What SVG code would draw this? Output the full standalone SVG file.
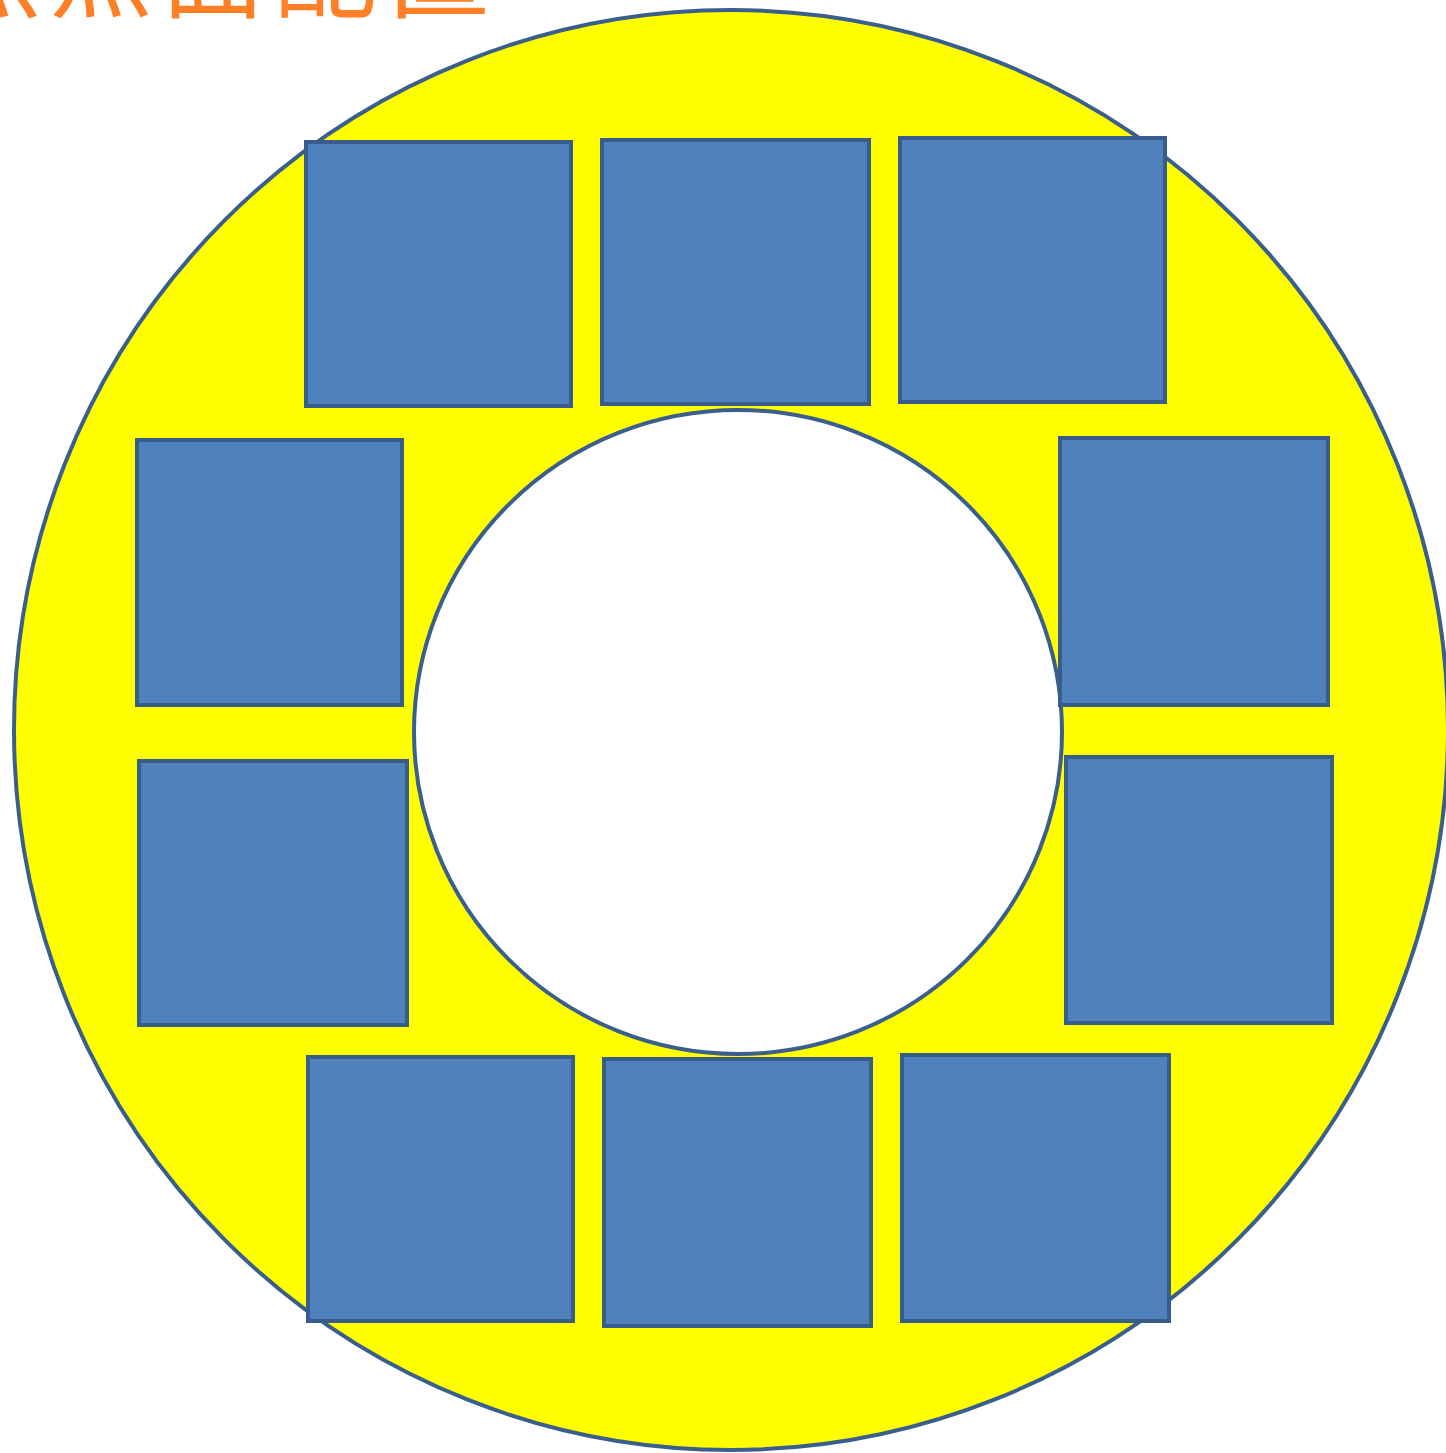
<svg xmlns="http://www.w3.org/2000/svg" width="1446" height="1453" viewBox="0 0 1446 1453">
<style>
.sq{fill:#4F81BD;stroke:#385D8A;stroke-width:4}
.ring{stroke:#3A5F8C;stroke-width:4}
.title{font-family:"Noto Sans CJK JP","Noto Sans CJK SC",sans-serif;font-size:104px;fill:#FF7F27}
</style>
<rect width="1446" height="1453" fill="#FFFFFF"/>
<text class="title" x="497" y="10" text-anchor="end" letter-spacing="8">焦点面配置</text>
<g id="outer"><ellipse class="ring" cx="731" cy="730" rx="717" ry="720" fill="#FFFF00"/></g>
<g id="inner"><ellipse class="ring" cx="738" cy="732" rx="324" ry="322" fill="#FFFFFF"/></g>
<g id="n1"><rect class="sq" x="306" y="142" width="265" height="264"/></g>
<g id="n2"><rect class="sq" x="602" y="140" width="267" height="264"/></g>
<g id="n3"><rect class="sq" x="900" y="138" width="265" height="264"/></g>
<g id="n4"><rect class="sq" x="137" y="440" width="265" height="265"/></g>
<g id="n5"><rect class="sq" x="1060" y="438" width="268" height="267"/></g>
<g id="n6"><rect class="sq" x="139" y="761" width="268" height="264"/></g>
<g id="n7"><rect class="sq" x="1066" y="757" width="266" height="266"/></g>
<g id="n8"><rect class="sq" x="308" y="1057" width="265" height="264"/></g>
<g id="n9"><rect class="sq" x="604" y="1059" width="267" height="267"/></g>
<g id="n10"><rect class="sq" x="902" y="1055" width="267" height="266"/></g>
<g id="connectors"/>
</svg>
